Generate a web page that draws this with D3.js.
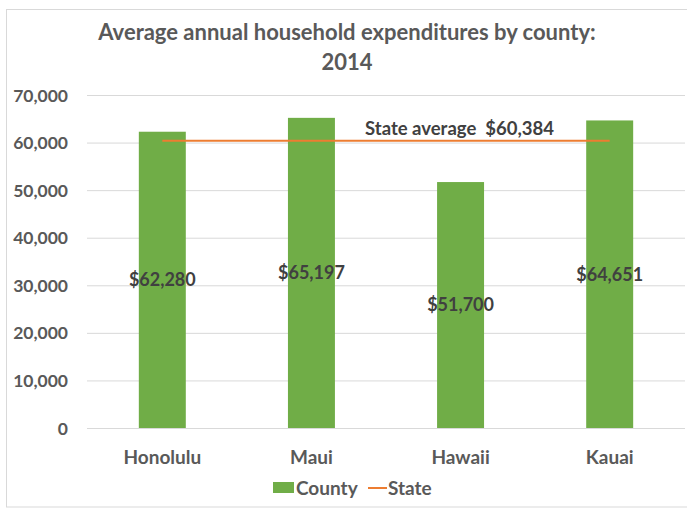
<!DOCTYPE html>
<html><head><meta charset="utf-8">
<script src="https://cdn.jsdelivr.net/npm/d3@7"></script>
<style>body{margin:0;background:#fff;} text{font-family:Lato, "Open Sans", sans-serif;font-weight:bold;}</style>
</head><body>
<svg id="c" width="687" height="508"></svg>
<script>
const categories = ["Honolulu", "Maui", "Hawaii", "Kauai"];
const countyValues = [62280, 65197, 51700, 64651];
const stateAverage = 60384;
const yTicks = [0, 10000, 20000, 30000, 40000, 50000, 60000, 70000];
const titleLines = ["Average annual household expenditures by county:", "2014"];

const svg = d3.select("#c");
const green = "#70AD47", orange = "#ED7D31", textCol = "#595959", labelCol = "#404040";

// frame
svg.append("rect").attr("x", 6.5).attr("y", 9.5).attr("width", 700).attr("height", 497.5)
  .attr("fill", "none").attr("stroke", "#D9D9D9");

const x = d3.scaleBand().domain(categories).range([87.75, 684.25]).paddingInner(0.685).paddingOuter(0.3425);
const y = d3.scaleLinear().domain([0, 70000]).range([428, 95]);

// gridlines
svg.append("g").selectAll("line").data(yTicks).join("line")
  .attr("x1", 87).attr("x2", 685).attr("y1", d => y(d) + 0.5).attr("y2", d => y(d) + 0.5)
  .attr("stroke", "#D9D9D9").attr("stroke-width", 1);

// y axis labels
const yAxis = d3.axisLeft(y).tickValues(yTicks).tickFormat(d3.format(",")).tickSize(0).tickPadding(0);
const ya = svg.append("g").attr("transform", "translate(68,0)").call(yAxis);
ya.select(".domain").remove();
ya.selectAll("text").attr("fill", textCol).style("font-size", "17.5px").attr("dy", "0.35em");

// bars
svg.append("g").selectAll("rect").data(countyValues).join("rect")
  .attr("x", (d, i) => x(categories[i])).attr("width", x.bandwidth())
  .attr("y", d => y(d)).attr("height", d => y(0) - y(d)).attr("fill", green);

// state line
svg.append("line")
  .attr("x1", x(categories[0]) + x.bandwidth() / 2)
  .attr("x2", x(categories[categories.length - 1]) + x.bandwidth() / 2)
  .attr("y1", y(stateAverage)).attr("y2", y(stateAverage))
  .attr("stroke", orange).attr("stroke-width", 2.2);

// bar labels
svg.append("g").selectAll("text").data(countyValues).join("text")
  .attr("x", (d, i) => x(categories[i]) + x.bandwidth() / 2)
  .attr("y", d => (y(d) + y(0)) / 2).attr("dy", "0.35em")
  .attr("text-anchor", "middle").attr("fill", labelCol).style("font-size", "18px")
  .text(d => "$" + d3.format(",")(d));

// state label
svg.append("text").attr("x", 459.5).attr("y", y(stateAverage) - 12).attr("dy", "0.35em")
  .attr("text-anchor", "middle").attr("fill", labelCol).style("font-size", "18.5px")
  .attr("xml:space", "preserve")
  .text("State average  $" + d3.format(",")(stateAverage));

// x axis labels
const xAxis = d3.axisBottom(x).tickSize(0).tickPadding(0);
const xa = svg.append("g").attr("transform", "translate(0,457)").call(xAxis);
xa.select(".domain").remove();
xa.selectAll("text").attr("fill", textCol).style("font-size", "19px").attr("dy", "0.35em");

// title
svg.append("g").selectAll("text").data(titleLines).join("text")
  .attr("x", 347).attr("y", (d, i) => 32 + i * 30).attr("dy", "0.35em")
  .attr("text-anchor", "middle").attr("fill", textCol).style("font-size", "22px")
  .text(d => d);

// legend
const lg = svg.append("g");
lg.append("rect").attr("x", 273).attr("y", 482).attr("width", 21).attr("height", 11).attr("fill", green);
lg.append("text").attr("x", 296).attr("y", 488).attr("dy", "0.35em").attr("fill", textCol).style("font-size", "19px").text("County");
lg.append("line").attr("x1", 368).attr("x2", 387).attr("y1", 488).attr("y2", 488).attr("stroke", orange).attr("stroke-width", 2);
lg.append("text").attr("x", 388).attr("y", 488).attr("dy", "0.35em").attr("fill", textCol).style("font-size", "19px").text("State");
</script>
</body></html>
